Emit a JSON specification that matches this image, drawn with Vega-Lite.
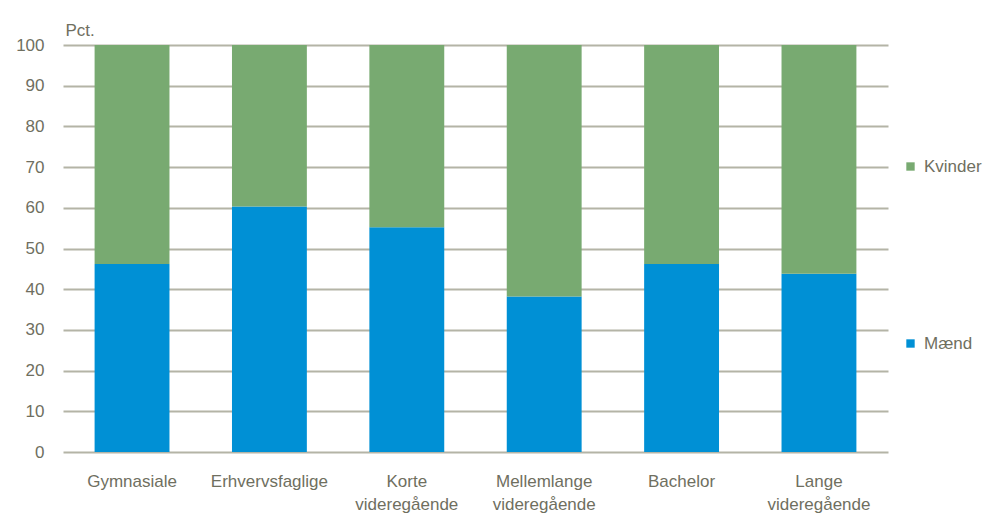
{
  "$schema": "https://vega.github.io/schema/vega-lite/v6.json",
  "autosize": {"type": "none"},
  "padding": {"left": 63, "top": 45, "right": 97, "bottom": 63},
  "width": 825,
  "height": 407,
  "background": "white",
  "config": {
    "view": {"stroke": null},
    "font": "Liberation Sans",
    "axis": {"labelFont": "Liberation Sans", "titleFont": "Liberation Sans"},
    "legend": {"labelFont": "Liberation Sans"}
  },
  "data": {
    "values": [
      {"udd": "Gymnasiale", "sex": "Mænd", "pct": 46.2},
      {"udd": "Gymnasiale", "sex": "Kvinder", "pct": 53.8},
      {"udd": "Erhvervsfaglige", "sex": "Mænd", "pct": 60.3},
      {"udd": "Erhvervsfaglige", "sex": "Kvinder", "pct": 39.7},
      {"udd": "Korte videregående", "sex": "Mænd", "pct": 55.2},
      {"udd": "Korte videregående", "sex": "Kvinder", "pct": 44.8},
      {"udd": "Mellemlange videregående", "sex": "Mænd", "pct": 38.2},
      {"udd": "Mellemlange videregående", "sex": "Kvinder", "pct": 61.8},
      {"udd": "Bachelor", "sex": "Mænd", "pct": 46.2},
      {"udd": "Bachelor", "sex": "Kvinder", "pct": 53.8},
      {"udd": "Lange videregående", "sex": "Mænd", "pct": 43.8},
      {"udd": "Lange videregående", "sex": "Kvinder", "pct": 56.2}
    ]
  },
  "mark": {"type": "bar"},
  "encoding": {
    "x": {
      "field": "udd",
      "type": "nominal",
      "sort": null,
      "scale": {"paddingInner": 0.455, "paddingOuter": 0.23},
      "axis": {
        "title": null,
        "labelAngle": 0,
        "labelExpr": "split(datum.label, ' ')",
        "labelFontSize": 17,
        "labelColor": "#6f6f5f",
        "labelPadding": 34,
        "labelLineHeight": 23,
        "labelBaseline": "alphabetic",
        "ticks": false,
        "domain": false,
        "grid": false
      }
    },
    "y": {
      "field": "pct",
      "type": "quantitative",
      "stack": "zero",
      "scale": {"domain": [0, 100], "nice": false},
      "axis": {
        "title": "Pct.",
        "titleAngle": 0,
        "titleAlign": "left",
        "titleBaseline": "alphabetic",
        "titleX": 2,
        "titleY": -10,
        "titleFontSize": 17,
        "titleFontWeight": "normal",
        "titleColor": "#6f6f5f",
        "values": [0, 10, 20, 30, 40, 50, 60, 70, 80, 90, 100],
        "labelFontSize": 17,
        "labelColor": "#6f6f5f",
        "labelPadding": 19,
        "ticks": false,
        "domain": false,
        "grid": true,
        "gridColor": "#b4b4a6",
        "gridWidth": 2
      }
    },
    "color": {
      "field": "sex",
      "type": "nominal",
      "scale": {"domain": ["Kvinder", "Mænd"], "range": ["#78aa71", "#0090d5"]},
      "legend": {
        "title": null,
        "orient": "none",
        "legendX": 839,
        "legendY": 113,
        "symbolType": "square",
        "symbolSize": 70,
        "symbolStrokeWidth": 0,
        "labelFontSize": 17,
        "labelColor": "#6f6f5f",
        "rowPadding": 159,
        "labelOffset": 5
      }
    },
    "order": {"field": "sex", "sort": "descending"}
  }
}
